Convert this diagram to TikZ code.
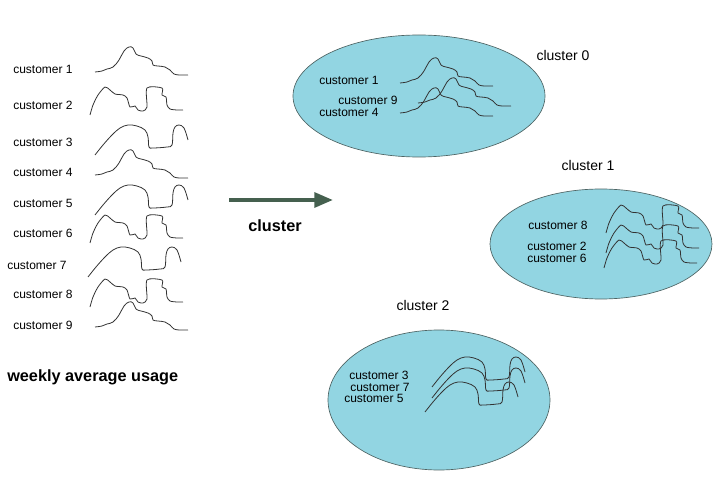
\documentclass[tikz,border=0pt]{standalone}
\usepackage{xcolor}
\usepackage{fontspec}
\setmainfont{Liberation Sans}
\usepackage{tikz}
\usetikzlibrary{arrows.meta,shapes.geometric}
\definecolor{cCiano}{HTML}{92D5E2}
\definecolor{cBorda}{HTML}{4E6464}
\definecolor{cSeta}{HTML}{45604F}
\definecolor{cCurva}{HTML}{333333}

\begin{document}
\begin{tikzpicture}[
  x=0.75pt,y=-0.75pt,
  cust/.style={font=\fontsize{9}{10}\selectfont,inner sep=0pt,anchor=west},
  clab/.style={font=\fontsize{10.5}{12}\selectfont,inner sep=0pt},
  hdr/.style={font=\fontsize{12.2}{14}\selectfont\bfseries,inner sep=0pt},
  grp/.style={ellipse,draw=cBorda,fill=cCiano,line width=0.5pt,inner sep=0pt},
  usage/.style={draw=cCurva,line width=0.6pt},
  flow/.style={-{Triangle[length=14pt,width=11pt]},draw=cSeta,line width=3pt},
  usageA/.pic={\draw[usage] plot[smooth,tension=0.7] coordinates {(0,0) (7,-1) (12,-3) (18,-5) (24,-12) (29,-21) (34,-25) (38,-24) (41,-18) (46,-16) (53,-14) (57,-11) (58,-7) (63,-6) (70,-5) (75,-2) (79,2) (85,3) (93,3)};},
  usageB/.pic={\draw[usage] plot[smooth,tension=0.45] coordinates {(0,0) (3,-10) (8,-20) (15,-28) (20,-25) (25,-21) (33,-20) (37,-17) (40,-8) (45,-9) (48,-5) (53,-4) (57,-8) (57,-27) (72,-27) (72,-20) (76,-18) (77,-10) (80,-6) (87,-5) (93,-5)};},
  usageC/.pic={\draw[usage] plot[smooth,tension=0.6] coordinates {(0,0) (8,-10) (17,-20) (25,-27) (33,-30) (42,-29) (50,-25) (53,-18) (54,-8) (58,-7) (72,-8) (77,-10) (78,-22) (80,-28) (84,-30) (89,-27) (93,-15)};}
]
\useasboundingbox (0,0) rectangle (718,481);

% ---- lista de clientes
\node[cust] (c1) at (13,69)  {customer 1};
\node[cust] (c2) at (13,105) {customer 2};
\node[cust] (c3) at (13,142) {customer 3};
\node[cust] (c4) at (13,172) {customer 4};
\node[cust] (c5) at (13,203) {customer 5};
\node[cust] (c6) at (13,233) {customer 6};
\node[cust] (c7) at (7,265)  {customer 7};
\node[cust] (c8) at (13,294) {customer 8};
\node[cust] (c9) at (13,325) {customer 9};
\pic at (95,72)  {usageA};
\pic at (90,115) {usageB};
\pic at (95,155) {usageC};
\pic at (95,175) {usageA};
\pic at (95,215) {usageC};
\pic at (90,243) {usageB};
\pic at (88,277) {usageC};
\pic at (90,307) {usageB};
\pic at (95,327) {usageA};
\node[hdr,anchor=west] (wk) at (7,377) {weekly average usage};

% ---- seta
\coordinate (aS) at (229,200);
\coordinate (aE) at (333,200);
\draw[flow] (aS) -- (aE);
\node[hdr] (cl) at (275,226) {cluster};

% ---- grupos
\node[grp,minimum width=189pt,minimum height=91.5pt] (k0) at (419,96) {};
\node[grp,minimum width=166.5pt,minimum height=82.5pt] (k1) at (601,244) {};
\node[grp,minimum width=166.5pt,minimum height=105pt] (k2) at (439,400) {};
\node[clab] (t0) at (563,55)  {cluster 0};
\node[clab] (t1) at (588,165) {cluster 1};
\node[clab] (t2) at (423,305) {cluster 2};

% ---- cluster 0
\node[cust] (k0a) at (319,80)  {customer 1};
\node[cust] (k0b) at (338,100) {customer 9};
\node[cust] (k0c) at (319,112) {customer 4};
\pic at (400,83)  {usageA};
\pic at (418,103) {usageA};
\pic at (400,113) {usageA};

% ---- cluster 1
\node[cust] (k1a) at (528,225) {customer 8};
\node[cust] (k1b) at (527,246) {customer 2};
\node[cust] (k1c) at (527,258) {customer 6};
\pic at (606,233) {usageB};
\pic at (606,253) {usageB};
\pic at (604,268) {usageB};

% ---- cluster 2
\node[cust] (k2a) at (349,375) {customer 3};
\node[cust] (k2b) at (350,387) {customer 7};
\node[cust] (k2c) at (344,398) {customer 5};
\pic at (432,387) {usageC};
\pic at (432,398) {usageC};
\pic at (425,412) {usageC};
\end{tikzpicture}
\end{document}
